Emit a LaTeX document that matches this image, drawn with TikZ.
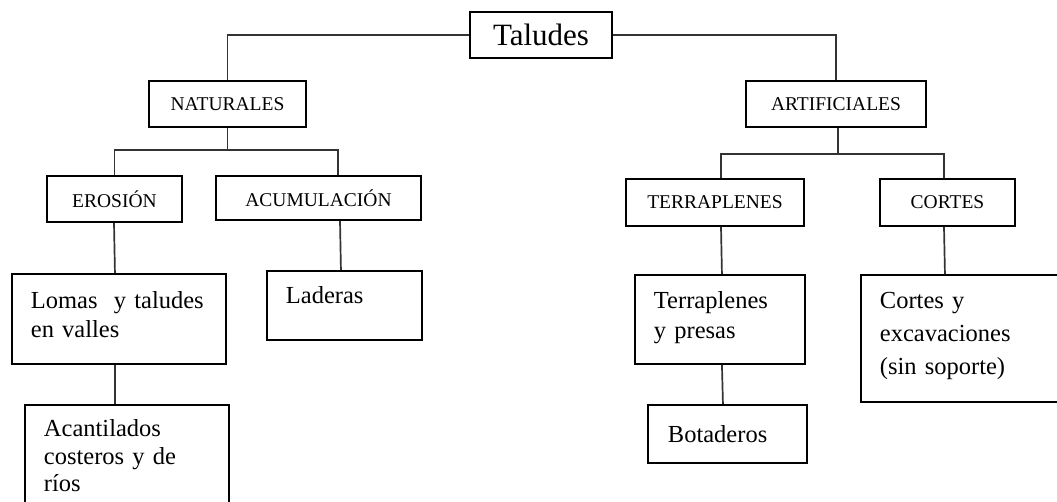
\documentclass[tikz,border=0pt]{standalone}
\usepackage{fontspec}
\setmainfont{Liberation Serif}
\usetikzlibrary{positioning}
\definecolor{linea}{HTML}{333333}
\tikzset{
  raiz/.style={draw=black,line width=1.9pt,minimum width=142pt,minimum height=46pt,
    inner sep=0pt,font=\fontsize{31}{35}\selectfont},
  tipo/.style={draw=black,line width=1.9pt,minimum height=46pt,inner sep=0pt,
    font=\fontsize{19.5}{23}\selectfont},
  hoja/.style={draw=black,line width=1.9pt,anchor=north west,inner xsep=19pt,
    inner ysep=0pt,align=left,font=\fontsize{24.5}{29}\selectfont},
  rama/.style={draw=linea,line width=1.7pt}
}
\begin{document}
\begin{tikzpicture}[x=1pt,y=-1pt]
  \useasboundingbox (0,0) rectangle (1057,502);
  \clip (0,0) rectangle (1057,502);
  % raiz y tipos
  \node[raiz] (taludes) at (541,35) {Taludes};
  \node[tipo,minimum width=157pt] (nat) at (227.5,104) {NATURALES};
  \node[tipo,minimum width=180pt] (art) at (836,104) {ARTIFICIALES};
  \node[tipo,minimum width=135pt] (ero) at (114.5,199) {EROSIÓN};
  \node[tipo,minimum width=205pt,minimum height=44pt] (acu) at (318.5,198) {ACUMULACIÓN};
  \node[tipo,minimum width=178pt,minimum height=47pt] (ter) at (715,202.5) {TERRAPLENES};
  \node[tipo,minimum width=135pt,minimum height=47pt] (cor) at (947.5,202.5) {CORTES};
  % hojas
  \node[hoja,text width=176pt,text height=35pt,text depth=55pt] (lomas) at (11,273)
    {Lomas\ \ y taludes\\en valles};
  \node[hoja,text width=166pt,text height=32pt,text depth=108pt,
    font=\fontsize{24.5}{27.5}\selectfont] (acant) at (24,404)
    {Acantilados\\costeros y de\\ríos};
  \node[hoja,text width=117pt,text height=33pt,text depth=36pt] (lad) at (266,270) {Laderas};
  \node[hoja,text width=132pt,text height=34pt,text depth=55pt,
    font=\fontsize{24.5}{30}\selectfont] (terp) at (634,274) {Terraplenes\\y presas};
  \node[hoja,text width=119pt,inner xsep=20pt,text height=38pt,text depth=20pt] (bot) at (647,404) {Botaderos};
  \node[hoja,text width=172pt,text height=34pt,text depth=93pt,
    font=\fontsize{24.5}{33}\selectfont] (cyx) at (860,274)
    {Cortes y\\excavaciones\\(sin soporte)};
  % ramas
  \draw[rama] (taludes.west) -| (nat.north);
  \draw[rama] (taludes.east) -| (art.north);
  \draw[rama] (nat.south) -- ++(0,22) coordinate (nb);
  \draw[rama] (ero.north) |- (nb) -| ([xshift=19.5pt]acu.north);
  \draw[rama] ([xshift=-0.5pt]ero.south) -- ([xshift=-4pt]lomas.north);
  \draw[rama] ([xshift=-4pt]lomas.south) -- ([xshift=-12pt]acant.north);
  \draw[rama] ([xshift=21.5pt]acu.south) -- ([xshift=-3.5pt]lad.north);
  \draw[rama] ([xshift=2pt]art.south) -- ++(0,26) coordinate (ab);
  \draw[rama] ([xshift=6pt]ter.north) |- (ab) -| ([xshift=-3.5pt]cor.north);
  \draw[rama] ([xshift=6pt]ter.south) -- ([xshift=2pt]terp.north);
  \draw[rama] ([xshift=2pt]terp.south) -- ([xshift=-4.5pt]bot.north);
  \draw[rama] ([xshift=-3.5pt]cor.south) -- ([xshift=-21pt]cyx.north);
\end{tikzpicture}
\end{document}
